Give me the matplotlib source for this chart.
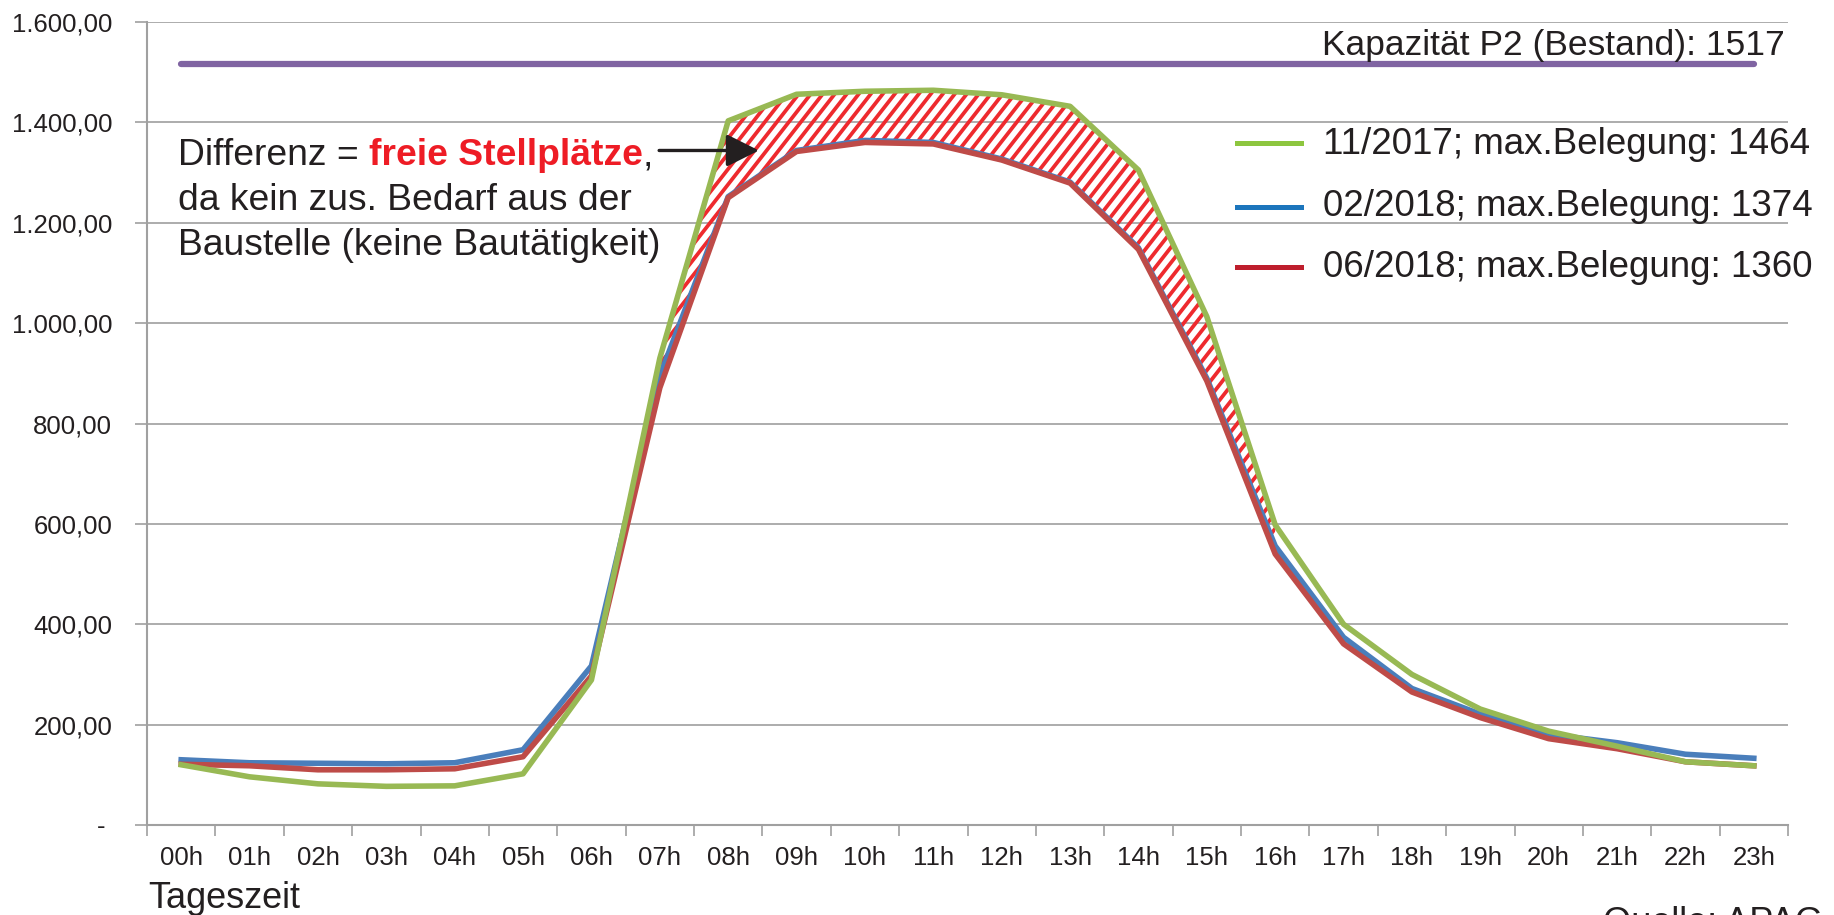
import numpy as np
import matplotlib
matplotlib.use('Agg')
import matplotlib.pyplot as plt
from matplotlib.lines import Line2D
from matplotlib.path import Path
from matplotlib.patches import PathPatch
from matplotlib.collections import LineCollection

plt.rcParams['font.family'] = ['Liberation Sans', 'DejaVu Sans']

# data
hours = ['00h','01h','02h','03h','04h','05h','06h','07h','08h','09h','10h','11h',
         '12h','13h','14h','15h','16h','17h','18h','19h','20h','21h','22h','23h']
nov2017 = [120, 96, 82, 77, 78, 102, 289, 930, 1403, 1456, 1462, 1464,
           1455, 1432, 1305, 1013, 598, 400, 300, 231, 187, 157, 126, 118]
feb2018 = [130, 124, 123, 122, 124, 150, 317, 895, 1252, 1344, 1364, 1360,
           1327, 1281, 1150, 890, 556, 374, 272, 221, 181, 164, 141, 133]
jun2018 = [121, 118, 110, 110, 112, 136, 297, 871, 1250, 1342, 1360, 1357,
           1325, 1279, 1147, 885, 540, 361, 265, 214, 172, 152, 126, 118]
kapazitaet = 1517
legend_labels = ['11/2017; max.Belegung: 1464',
                 '02/2018; max.Belegung: 1374',
                 '06/2018; max.Belegung: 1360']
yticks = [0, 200, 400, 600, 800, 1000, 1200, 1400, 1600]

W, H = 1834, 915
fig = plt.figure(figsize=(W/100, H/100), dpi=100)
ax = fig.add_axes([147/W, 1-825/H, 1641/W, 803/H])

x = np.arange(len(hours))
g = np.array(nov2017, float)
r = np.array(jun2018, float)
txt = '#231F20'

# schraffierte Differenzflaeche
n = 17
poly = ax.fill_between(x[:n], r[:n], g[:n], where=g[:n] >= r[:n], interpolate=True,
                       facecolor='none', edgecolor='none', zorder=1)
cpath = Path.make_compound_path(*poly.get_paths())
clip = PathPatch(cpath, transform=ax.transData, facecolor='none', edgecolor='none')
ax.add_patch(clip)
aw, ah = 1641.0, 803.0
step = 12.0
ang = np.deg2rad(52)
run = ah/np.tan(ang)
segs = []
c = -run
while c < aw:
    segs.append([(c/aw, 0), ((c+run)/aw, 1)])
    c += step
lc = LineCollection(segs, colors='#EE2A2E', linewidths=2.7, transform=ax.transAxes, zorder=1)
lc.set_clip_path(clip)
ax.add_collection(lc)

ax.plot([x[0], x[-1]], [kapazitaet, kapazitaet], color='#8064A2', lw=4.5,
        solid_capstyle='round', zorder=3)
ax.plot(x, feb2018, color='#4A7EBB', lw=4, zorder=3)
ax.plot(x, jun2018, color='#BE4B48', lw=4, zorder=4)
ax.plot(x, nov2017, color='#98B954', lw=4, zorder=5)

ax.set_xlim(-0.5, len(hours)-0.5)
ax.set_ylim(0, 1600)

def de(v):
    if v == 0:
        return '- '
    s = f'{v:,.2f}'
    return s.replace(',', 'X').replace('.', ',').replace('X', '.')

ax.set_yticks(yticks)
ax.set_yticklabels([de(v) for v in yticks])
ax.set_xticks(np.arange(-0.5, len(hours), 1))
ax.set_xticklabels([])
ax.set_xticks(x, minor=True)
ax.set_xticklabels(hours, minor=True)
ax.tick_params(axis='y', length=9, width=1.2, color='#A0A0A0', pad=16, labelsize=18.5, labelcolor=txt)
ax.tick_params(axis='x', which='major', length=8, width=1.2, color='#A0A0A0')
ax.tick_params(axis='x', which='minor', length=0, pad=15, labelsize=18.5, labelcolor=txt)

ax.grid(axis='y', color='#A6A6A6', lw=1.3, zorder=0)
ax.set_axisbelow(True)
for s in ['top', 'right']:
    ax.spines[s].set_visible(False)
for s in ['left', 'bottom']:
    ax.spines[s].set_color('#A0A0A0')
    ax.spines[s].set_linewidth(1.5)

def fx(px):
    return px/W
def fy(py):
    return 1-py/H

fig.text(fx(1322), fy(55), 'Kapazität P2 (Bestand): 1517', fontsize=25.5, color=txt, va='baseline')

leg_cols = ['#8DC63F', '#1C75BC', '#BE1E2D']
leg_line_y = [143, 207, 267]
leg_text_y = [154, 216, 277]
for col, ly, ty, lab in zip(leg_cols, leg_line_y, leg_text_y, legend_labels):
    fig.add_artist(Line2D([fx(1237), fx(1301)], [fy(ly), fy(ly)], color=col, lw=3.6))
    fig.text(fx(1323), fy(ty), lab, fontsize=26.5, color=txt, va='baseline')

fs = 26.8
t1 = fig.text(fx(178), fy(165), 'Differenz = ', fontsize=fs, color=txt, va='baseline')
t2 = ax.annotate('freie Stellplätze', xy=(1, 0), xycoords=t1, va='bottom', ha='left',
                 fontsize=fs, color='#EE1C25', fontweight='bold')
ax.annotate(',', xy=(1, 0), xycoords=t2, va='bottom', ha='left', fontsize=fs, color=txt)
fig.text(fx(178), fy(210), 'da kein zus. Bedarf aus der', fontsize=fs, color=txt, va='baseline')
fig.text(fx(178), fy(255), 'Baustelle (keine Bautätigkeit)', fontsize=fs, color=txt, va='baseline')

ax.annotate('', xy=(8.45, 1344), xytext=(6.99, 1344),
            arrowprops=dict(arrowstyle='-|>,head_length=1.0,head_width=0.5',
                            color=txt, lw=2.4, mutation_scale=20, shrinkA=0, shrinkB=0),
            zorder=6)

fig.text(fx(148), fy(908), 'Tageszeit', fontsize=26, color=txt, va='baseline')
fig.text(fx(1603), fy(933), 'Quelle: APAG', fontsize=26, color=txt, va='baseline')

fig.savefig('out.png', dpi=100)
